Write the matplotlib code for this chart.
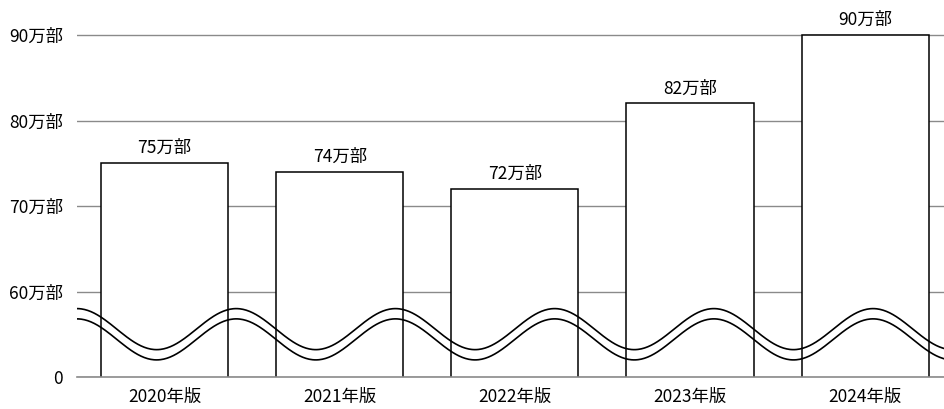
import matplotlib

matplotlib.use("Agg")

import matplotlib.pyplot as plt
import numpy as np

plt.rcParams["font.family"] = ["Noto Sans CJK JP", "DejaVu Sans"]

editions = ["2020年版", "2021年版", "2022年版", "2023年版", "2024年版"]
copies = [75, 74, 72, 82, 90]  # 万部
bar_labels = ["75万部", "74万部", "72万部", "82万部", "90万部"]
ytick_values = [50, 60, 70, 80, 90]  # 50 stands in for the broken-axis zero
ytick_labels = ["0", "60万部", "70万部", "80万部", "90万部"]

fig = plt.figure(figsize=(9.44, 4.09), dpi=100)
ax = fig.add_axes([77 / 944, 32 / 409, 1 - 77 / 944, 1 - 32 / 409])

x = np.arange(len(editions))
ax.bar(x, copies, width=0.726, color="white", edgecolor="black", linewidth=1.1, zorder=3)

for xi, v, lab in zip(x, copies, bar_labels):
    ax.text(xi, v + 0.7, lab, ha="center", va="bottom", fontsize=12.5, zorder=5)

ax.set_xlim(-0.5, 4.45)
ax.set_ylim(50, 94.1)
ax.set_yticks(ytick_values)
ax.set_yticklabels(ytick_labels, fontsize=12.5)
ax.set_xticks(x)
ax.set_xticklabels(editions, fontsize=12.5)
ax.tick_params(axis="both", length=0)
ax.tick_params(axis="y", pad=10)
ax.tick_params(axis="x", pad=8)
for s in ax.spines.values():
    s.set_visible(False)
ax.grid(axis="y", color="#8a8a8a", linewidth=1.0, zorder=1)
ax.axhline(50, color="#8a8a8a", linewidth=1.2, zorder=4, clip_on=False)

# wavy break marker across the broken axis
wx = np.linspace(-0.5, 4.45, 800)
wy = 55 + 2.4 * np.cos(2 * np.pi * (wx + 0.5) / 0.909)
ax.plot(wx, wy + 0.6, color="black", linewidth=1.2, zorder=4)
ax.plot(wx, wy - 0.6, color="black", linewidth=1.2, zorder=4)

fig.savefig("out.png", dpi=100)
